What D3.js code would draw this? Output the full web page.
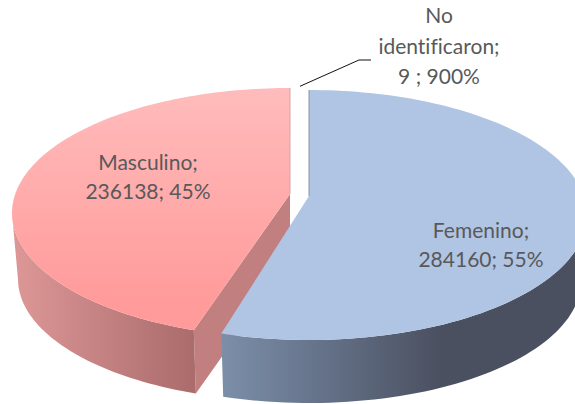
<!DOCTYPE html>
<html>
<head>
<meta charset="utf-8">
<script src="https://cdn.jsdelivr.net/npm/d3@7/dist/d3.min.js"></script>
<style>html,body{margin:0;padding:0;background:#fff}svg{display:block}text{font-family:Lato,"Open Sans",sans-serif;fill:#595959;font-size:21px;text-anchor:middle;font-variant-ligatures:none}</style>
</head>
<body>
<div id="chart"></div>
<script>
const categories = ["No identificaron", "Femenino", "Masculino"];
const values = [9, 284160, 236138];
const labelLines = [["No", "identificaron;", "9 ; 900%"], ["Femenino;", "284160; 55%"], ["Masculino;", "236138; 45%"]];

const W = 575, H = 404;
const svg = d3.select("#chart").append("svg").attr("width", W).attr("height", H);

const sliceCx = [300, 309, 290], sliceCy = [214, 215, 213];
const rx = 278, ry = 125, apexShift = -19;
const depth = 66, rxBottom = 272, ryBottom = 122;
const cutGap = 0.014;
const labelAt = [[439, 16], [481, 231], [148, 163]];
const lineHeight = [30.5, 29, 29];

const arcs = d3.pie().value((d, i) => values[i]).sort(null)(categories.map((c, i) => i));

// perspective projection of a point on the pie disc
function project(theta, r, cx, cy, rrx, rry) {
  const a = apexShift / ry;
  const x = r * Math.sin(theta), y = -r * Math.cos(theta);
  const w = 1 + a * y;
  return [cx + rrx * x * Math.sqrt(1 - a * a) / w, cy + rry * (y + a) / w];
}
const samples = (a0, a1) => d3.range(0, 121).map(k => a0 + (a1 - a0) * k / 120);
const line = d3.line();

const defs = svg.append("defs");
function grad(id, x1, y1, x2, y2, stops) {
  const g = defs.append("linearGradient").attr("id", id).attr("gradientUnits", "userSpaceOnUse")
    .attr("x1", x1).attr("y1", y1).attr("x2", x2).attr("y2", y2);
  stops.forEach(s => g.append("stop").attr("offset", s[0]).attr("stop-color", s[1]));
}
grad("redTop", 0, 88, 0, 300, [[0, "#ffbcbc"], [1, "#ff9b9b"]]);
grad("redWall", 13, 0, 197, 0, [[0, "#dd9797"], [1, "#aa6b6b"]]);
grad("blueWall", 221, 0, 440, 0, [[0, "#7c8fa9"], [0.45, "#65738a"], [1, "#4b5060"]]);

const styles = [
  null,
  {top: "#b0c4e3", wall: "url(#blueWall)", edge: "#8a93a5"},
  {top: "url(#redTop)", wall: "url(#redWall)", face: "#c17f7f", edge: "#d5a5a5"}
];

// back to front: Masculino first, Femenino over it
[2, 1].forEach(i => {
  const d = arcs[i], s = styles[i], cx = sliceCx[i], cy = sliceCy[i];
  const th = i === 1 ? samples(d.startAngle, d.endAngle - cutGap).reverse()
                     : samples(d.startAngle + cutGap, d.endAngle);
  // th starts at the front cut and runs away from it
  const topArc = th.map(t => project(t, 1, cx, cy, rx, ry));
  const botArc = th.map(t => project(t, 1, cx, cy + depth, rxBottom, ryBottom));
  const apex = project(0, 0, cx, cy, rx, ry);
  const apexB = project(0, 0, cx, cy + depth, rxBottom, ryBottom);
  // the wall ends at the silhouette point, where the arc reaches its widest x
  const far = i === 1 ? d3.greatestIndex(topArc, p => p[0]) : d3.leastIndex(topArc, p => p[0]);
  const farB = i === 1 ? d3.greatestIndex(botArc, p => p[0]) : d3.leastIndex(botArc, p => p[0]);
  const g = svg.append("g").attr("class", "slice");
  if (s.face) {
    g.append("path").attr("d", line([apex, topArc[0], botArc[0], apexB]) + "Z").attr("fill", s.face);
  }
  g.append("path").attr("d", line(topArc.slice(0, far + 1).concat(botArc.slice(0, farB + 1).reverse())) + "Z").attr("fill", s.wall);
  g.append("path").attr("d", line([apex].concat(topArc)) + "Z").attr("fill", s.top);
  const backEdge = i === 1 ? topArc[topArc.length - 1] : topArc[topArc.length - 1];
  g.append("path").attr("d", line([apex, backEdge])).attr("fill", "none").attr("stroke", s.edge).attr("stroke-width", 1);
});

// leader line of the tiny slice
const tip = project(arcs[0].startAngle, 1.03, sliceCx[0], sliceCy[0], rx, ry);
svg.append("path").attr("d", line([tip, [359, 60], [371, 60]]))
  .attr("fill", "none").attr("stroke", "#111").attr("stroke-width", 1);

labelLines.forEach((lines, i) => {
  const t = svg.append("text").attr("x", labelAt[i][0]).attr("y", labelAt[i][1]);
  lines.forEach((l, k) => t.append("tspan").attr("x", labelAt[i][0]).attr("y", labelAt[i][1] + 7 + k * lineHeight[i]).text(l));
});
</script>
</body>
</html>
